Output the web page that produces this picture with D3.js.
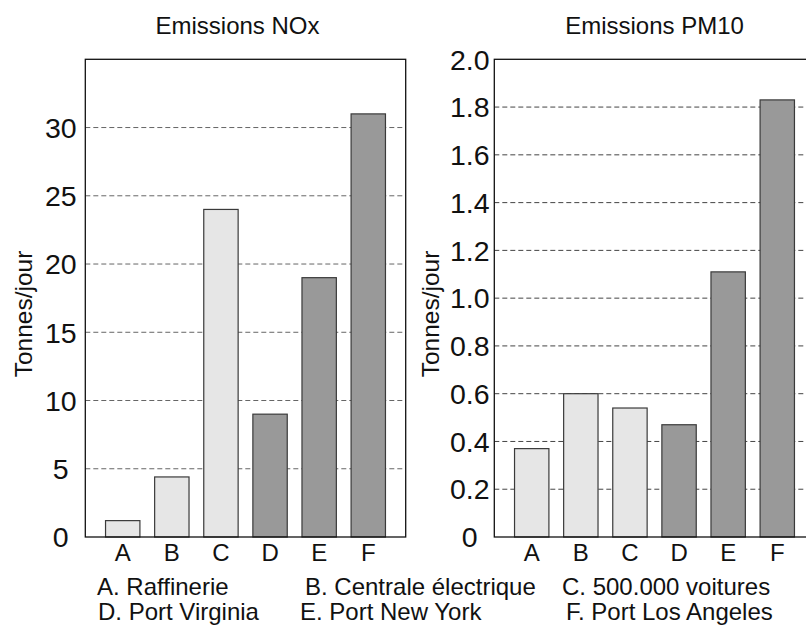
<!DOCTYPE html>
<html>
<head>
<meta charset="utf-8">
<script src="https://cdn.jsdelivr.net/npm/d3@7"></script>
<style>
  html, body { margin: 0; padding: 0; background: #fff; }
  svg { display: block; font-family: "Liberation Sans", Arial, sans-serif; }
</style>
</head>
<body>
<svg id="chart" width="806" height="626"></svg>
<script>
// ---- data ----
const categories = ["A", "B", "C", "D", "E", "F"];
const sourceType = ["fixe", "fixe", "fixe", "port", "port", "port"];
const noxValues = [1.2, 4.4, 24, 9, 19, 31];
const pm10Values = [0.37, 0.6, 0.54, 0.47, 1.11, 1.83];
const noxTicks = [0, 5, 10, 15, 20, 25, 30];
const pm10Ticks = [0, 0.2, 0.4, 0.6, 0.8, 1.0, 1.2, 1.4, 1.6, 1.8, 2.0];
const legendLabels = ["A. Raffinerie", "B. Centrale électrique", "C. 500.000 voitures",
                      "D. Port Virginia", "E. Port New York", "F. Port Los Angeles"];
const titles = ["Emissions NOx", "Emissions PM10"];
const yLabel = "Tonnes/jour";

// ---- layout ----
const svg = d3.select("#chart");
const plotTop = 59.3, plotBottom = 537;
const panelW = 320.4;
const panels = [
  { x0: 85.3, values: noxValues, domain: [0, 35], ticks: noxTicks, fmt: d3.format("d"), title: titles[0], titleDx: -8, ylabX: 32, grid: "#666" },
  { x0: 494.3, values: pm10Values, domain: [0, 2.0], ticks: pm10Ticks, fmt: d => d === 0 ? "0" : d3.format(".1f")(d), title: titles[1], titleDx: 0, ylabX: 439, grid: "#444" }
];
const color = d3.scaleOrdinal().domain(["fixe", "port"]).range(["#e6e6e6", "#999999"]);

panels.forEach(p => {
  const g = svg.append("g");
  const x = d3.scaleBand().domain(categories).range([p.x0, p.x0 + panelW]).paddingInner(0.3).paddingOuter(0.412);
  const y = d3.scaleLinear().domain(p.domain).range([plotBottom, plotTop]);

  // gridlines
  g.selectAll("line.grid").data(p.ticks.filter(t => t > 0 && y(t) > plotTop + 2)).join("line")
    .attr("class", "grid")
    .attr("x1", p.x0).attr("x2", p.x0 + panelW)
    .attr("y1", d => y(d)).attr("y2", d => y(d))
    .attr("stroke", p.grid).attr("stroke-width", 1).attr("stroke-dasharray", "5,3");

  // bars
  g.selectAll("rect.bar").data(categories).join("rect")
    .attr("class", "bar")
    .attr("x", d => x(d)).attr("width", x.bandwidth())
    .attr("y", (d, i) => y(p.values[i]))
    .attr("height", (d, i) => plotBottom - y(p.values[i]))
    .attr("fill", (d, i) => color(sourceType[i]))
    .attr("stroke", "#3a3a3a").attr("stroke-width", 1.2);

  // frame
  g.append("rect")
    .attr("x", p.x0).attr("y", plotTop).attr("width", panelW).attr("height", plotBottom - plotTop)
    .attr("fill", "none").attr("stroke", "#111").attr("stroke-width", 1.3);

  // y tick labels
  g.selectAll("text.ytick").data(p.ticks).join("text")
    .attr("class", "ytick")
    .attr("x", p.x0 - 24.5).attr("y", d => y(d))
    .attr("dy", "0.36em")
    .attr("text-anchor", "middle")
    .attr("font-size", 28.5)
    .attr("fill", "#111")
    .text(p.fmt);

  // x category labels
  g.selectAll("text.xtick").data(categories).join("text")
    .attr("class", "xtick")
    .attr("x", d => x(d) + x.bandwidth() / 2).attr("y", 561)
    .attr("text-anchor", "middle")
    .attr("font-size", 24)
    .attr("fill", "#111")
    .text(d => d);

  // title
  g.append("text")
    .attr("x", p.x0 + panelW / 2 + p.titleDx).attr("y", 34)
    .attr("text-anchor", "middle").attr("font-size", 24).attr("fill", "#111")
    .text(p.title);

  // y label
  g.append("text")
    .attr("transform", `translate(${p.ylabX},314) rotate(-90)`)
    .attr("text-anchor", "middle").attr("font-size", 24.5).attr("fill", "#111")
    .text(yLabel);
});

// legend
const legendCols = [[97, 305, 562], [98, 300, 566]];
const legendRows = [595, 620];
svg.append("g").selectAll("text").data(legendLabels).join("text")
  .attr("x", (d, i) => legendCols[Math.floor(i / 3)][i % 3])
  .attr("y", (d, i) => legendRows[Math.floor(i / 3)])
  .attr("font-size", 24).attr("fill", "#111")
  .text(d => d);
</script>
</body>
</html>
